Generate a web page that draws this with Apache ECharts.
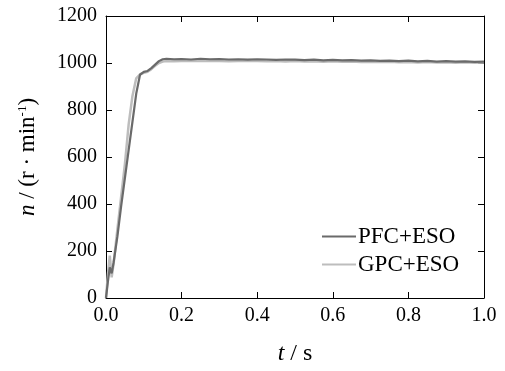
<!DOCTYPE html>
<html><head><meta charset="utf-8">
<script src="https://cdn.jsdelivr.net/npm/echarts@6/dist/echarts.min.js"></script>
<style>html,body{margin:0;padding:0;background:#fff}#c{width:505px;height:371px}</style>
</head><body><div id="c"></div>
<script>
var times = [0,0.005,0.01,0.015,0.02,0.03,0.04,0.05,0.06,0.07,0.08,0.09,0.1,0.11,0.12,0.13,0.14,0.15,0.16,0.18,0.2,
0.225,0.25,0.275,0.3,0.325,0.35,0.375,0.4,0.425,0.45,0.475,0.5,0.525,0.55,0.575,0.6,0.625,0.65,0.675,0.7,0.725,0.75,0.775,0.8,0.825,0.85,0.875,0.9,0.925,0.95,0.975,1.0];
var pfcValues = [0,70,130,105,150,260,390,510,630,750,870,950,962,966,978,993,1008,1016,1018,1016,1017,
1015,1018,1016,1017,1015,1016,1014,1016,1015,1013,1015,1014,1012,1014,1011,1013,1011,1012,1010,1011,1009,1010,1008,1010,1007,1009,1006,1008,1006,1007,1005,1006];
var gpcValues = [0,100,180,88,145,290,430,570,740,860,935,952,958,963,974,988,1000,1006,1008,1007,1009,
1008,1010,1008,1009,1007,1009,1008,1009,1007,1008,1006,1008,1006,1007,1005,1007,1005,1006,1004,1005,1004,1005,1003,1004,1002,1004,1002,1003,1001,1003,1001,1002];
var xTicks = {min:0, max:1.0, interval:0.2};
var yTicks = {min:0, max:1200, interval:200};
var seriesNames = ['PFC+ESO','GPC+ESO'];

function pairs(v){ return times.map(function(t,i){return [t,v[i]];}); }
var font = 'Liberation Serif';
function tick(){ return {show:true, inside:true, length:6, lineStyle:{color:'#000', width:1}}; }
function line(){ return {show:true, onZero:false, lineStyle:{color:'#000', width:1}}; }
var chart = echarts.init(document.getElementById('c'));
chart.setOption({
  animation:false,
  grid:{left:106, right:21, top:16, bottom:67, containLabel:false},
  legend:{
    data:[{name:seriesNames[0]},{name:seriesNames[1]}],
    orient:'vertical', left:317, top:220, itemWidth:34, itemHeight:2, icon:'rect', itemGap:5,
    textStyle:{fontFamily:font, fontSize:23, color:'#000', padding:[0,0,0,-3]}
  },
  xAxis:[{
    type:'value', position:'bottom', min:xTicks.min, max:xTicks.max, interval:xTicks.interval,
    axisLine:line(), axisTick:tick(), splitLine:{show:false},
    axisLabel:{fontFamily:font, fontSize:20, color:'#000', margin:8, formatter:function(v){return v.toFixed(1);}},
    name:'{i|t} / s', nameLocation:'middle', nameGap:44,
    nameTextStyle:{fontFamily:font, fontSize:24, color:'#000', rich:{i:{fontFamily:font, fontSize:24, fontStyle:'italic', color:'#000'}}}
  },{
    type:'value', position:'top', min:xTicks.min, max:xTicks.max, interval:xTicks.interval,
    axisLine:line(), axisTick:tick(), axisLabel:{show:false}, splitLine:{show:false}
  }],
  yAxis:[{
    type:'value', position:'left', min:yTicks.min, max:yTicks.max, interval:yTicks.interval,
    axisLine:line(), axisTick:tick(), splitLine:{show:false},
    axisLabel:{fontFamily:font, fontSize:20, color:'#000', margin:9, formatter:function(v){return String(v);}},
    name:'{i|n} / (r · min{s|-1})', nameLocation:'middle', nameGap:67, nameRotate:90,
    nameTextStyle:{fontFamily:font, fontSize:23, color:'#000', rich:{
      i:{fontFamily:font, fontSize:23, fontStyle:'italic', color:'#000'},
      s:{fontFamily:font, fontSize:13, color:'#000', verticalAlign:'top', padding:[0,0,10,0]}
    }}
  },{
    type:'value', position:'right', min:yTicks.min, max:yTicks.max, interval:yTicks.interval,
    axisLine:line(), axisTick:tick(), axisLabel:{show:false}, splitLine:{show:false}
  }],
  series:[
    {name:seriesNames[1], type:'line', xAxisIndex:0, yAxisIndex:0, data:pairs(gpcValues), showSymbol:false, symbol:'none', z:2,
     lineStyle:{color:'#bdbdbd', width:2.5}, itemStyle:{color:'#bdbdbd'}},
    {name:seriesNames[0], type:'line', xAxisIndex:0, yAxisIndex:0, data:pairs(pfcValues), showSymbol:false, symbol:'none', z:3,
     lineStyle:{color:'#6a6a6a', width:2.2}, itemStyle:{color:'#6a6a6a'}},
    {name:'frame', type:'line', xAxisIndex:1, yAxisIndex:1, data:[], silent:true, showSymbol:false, symbol:'none'}
  ]
});
</script></body></html>
